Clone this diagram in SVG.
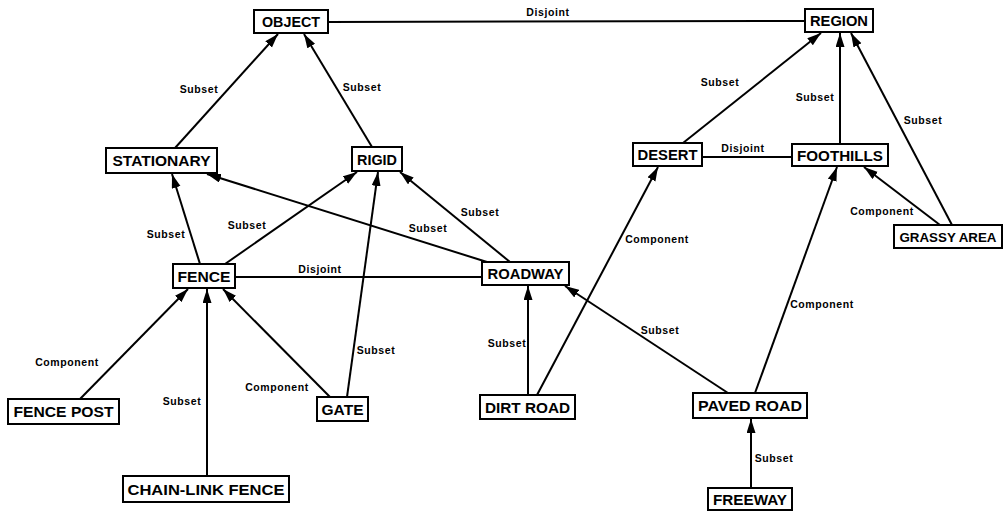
<svg xmlns="http://www.w3.org/2000/svg" width="1008" height="511" viewBox="0 0 1008 511">
  <style>
    .box { fill: #fff; stroke: #000; stroke-width: 2; }
    .nlabel { font-family: "Liberation Sans", Arial, sans-serif; font-weight: bold; font-size: 15px; fill: #000; text-anchor: middle; }
    .edge { stroke: #000; stroke-width: 2; fill: none; }
    .arrow { marker-end: url(#head); }
    .elabel { font-family: "Liberation Sans", Arial, sans-serif; font-weight: bold; font-size: 10.5px; letter-spacing: 0.6px; fill: #000; text-anchor: middle; }
  </style>
  <defs>
    <marker id="head" markerUnits="userSpaceOnUse" markerWidth="15" markerHeight="10" refX="14" refY="4.5" orient="auto">
      <path d="M0,0 L14,4.5 L0,9 z" fill="#000"/>
    </marker>
  </defs>
  <rect width="1008" height="511" fill="#fff"/>

  <g id="connectors">
    <!-- subset / component arrows -->
    <line class="edge arrow" x1="175" y1="148" x2="278" y2="34"/>
    <line class="edge arrow" x1="372" y1="147" x2="304" y2="34"/>
    <line class="edge arrow" x1="683" y1="143" x2="821" y2="33"/>
    <line class="edge arrow" x1="840" y1="144" x2="840" y2="33"/>
    <line class="edge arrow" x1="952" y1="225" x2="851" y2="33"/>
    <line class="edge arrow" x1="940" y1="225" x2="864" y2="167"/>
    <line class="edge arrow" x1="200" y1="264" x2="172" y2="174"/>
    <line class="edge arrow" x1="225" y1="264" x2="357" y2="172"/>
    <line class="edge arrow" x1="487" y1="262" x2="207" y2="174"/>
    <line class="edge arrow" x1="510" y1="262" x2="400" y2="172"/>
    <line class="edge arrow" x1="347" y1="397" x2="378" y2="172"/>
    <line class="edge arrow" x1="80" y1="399" x2="188" y2="289"/>
    <line class="edge arrow" x1="207" y1="476" x2="207" y2="289"/>
    <line class="edge arrow" x1="330" y1="397" x2="223" y2="289"/>
    <line class="edge arrow" x1="528" y1="395" x2="528" y2="286"/>
    <line class="edge arrow" x1="537" y1="395" x2="658" y2="167"/>
    <line class="edge arrow" x1="728" y1="393" x2="565" y2="286"/>
    <line class="edge arrow" x1="755" y1="393" x2="837" y2="167"/>
    <line class="edge arrow" x1="751" y1="488" x2="751" y2="419"/>
    <!-- disjoint links -->
    <line class="edge" x1="328" y1="22" x2="805" y2="21"/>
    <line class="edge" x1="702" y1="157" x2="792" y2="157"/>
    <line class="edge" x1="235" y1="277" x2="482" y2="277"/>

    <!-- link labels -->
    <text class="elabel" x="199" y="93">Subset</text>
    <text class="elabel" x="362" y="91">Subset</text>
    <text class="elabel" x="548" y="16">Disjoint</text>
    <text class="elabel" x="720" y="86">Subset</text>
    <text class="elabel" x="815" y="101">Subset</text>
    <text class="elabel" x="923" y="124">Subset</text>
    <text class="elabel" x="743" y="152">Disjoint</text>
    <text class="elabel" x="882" y="215">Component</text>
    <text class="elabel" x="166" y="238">Subset</text>
    <text class="elabel" x="247" y="229">Subset</text>
    <text class="elabel" x="428" y="232">Subset</text>
    <text class="elabel" x="480" y="216">Subset</text>
    <text class="elabel" x="320" y="273">Disjoint</text>
    <text class="elabel" x="376" y="354">Subset</text>
    <text class="elabel" x="507" y="347">Subset</text>
    <text class="elabel" x="657" y="243">Component</text>
    <text class="elabel" x="660" y="334">Subset</text>
    <text class="elabel" x="822" y="308">Component</text>
    <text class="elabel" x="774" y="462">Subset</text>
    <text class="elabel" x="67" y="366">Component</text>
    <text class="elabel" x="182" y="405">Subset</text>
    <text class="elabel" x="277" y="391">Component</text>
  </g>

  <g id="object"><rect class="box" x="254" y="10" width="74" height="23"/><text class="nlabel" x="291" y="27" textLength="58" lengthAdjust="spacingAndGlyphs">OBJECT</text></g>
  <g id="region"><rect class="box" x="805" y="9" width="68" height="23"/><text class="nlabel" x="839" y="26" textLength="58" lengthAdjust="spacingAndGlyphs">REGION</text></g>
  <g id="stationary"><rect class="box" x="106" y="148" width="111" height="25"/><text class="nlabel" x="161.5" y="166" textLength="98" lengthAdjust="spacingAndGlyphs">STATIONARY</text></g>
  <g id="rigid"><rect class="box" x="352" y="147" width="50" height="24"/><text class="nlabel" x="377" y="164.5" textLength="40" lengthAdjust="spacingAndGlyphs">RIGID</text></g>
  <g id="fence"><rect class="box" x="173" y="264" width="62" height="24"/><text class="nlabel" x="204" y="281.5" textLength="53" lengthAdjust="spacingAndGlyphs">FENCE</text></g>
  <g id="roadway"><rect class="box" x="482" y="262" width="87" height="23"/><text class="nlabel" x="525.5" y="279" textLength="76" lengthAdjust="spacingAndGlyphs">ROADWAY</text></g>
  <g id="desert"><rect class="box" x="633" y="143" width="69" height="23"/><text class="nlabel" x="667.5" y="160" textLength="60" lengthAdjust="spacingAndGlyphs">DESERT</text></g>
  <g id="foothills"><rect class="box" x="792" y="144" width="96" height="22"/><text class="nlabel" x="840" y="160.5" textLength="86" lengthAdjust="spacingAndGlyphs">FOOTHILLS</text></g>
  <g id="grassy-area"><rect class="box" x="894" y="225" width="108" height="23"/><text class="nlabel" x="948" y="241.5" style="font-size:13.5px" textLength="97" lengthAdjust="spacingAndGlyphs">GRASSY AREA</text></g>
  <g id="fence-post"><rect class="box" x="8" y="399" width="111" height="25"/><text class="nlabel" x="63.5" y="417" textLength="100" lengthAdjust="spacingAndGlyphs">FENCE POST</text></g>
  <g id="chain-link-fence"><rect class="box" x="123" y="476" width="166" height="26"/><text class="nlabel" x="206" y="494.5" textLength="157" lengthAdjust="spacingAndGlyphs">CHAIN-LINK FENCE</text></g>
  <g id="gate"><rect class="box" x="317" y="397" width="51" height="24"/><text class="nlabel" x="342.5" y="414.5" textLength="42" lengthAdjust="spacingAndGlyphs">GATE</text></g>
  <g id="dirt-road"><rect class="box" x="480" y="395" width="95" height="24"/><text class="nlabel" x="527.5" y="412.5" textLength="85" lengthAdjust="spacingAndGlyphs">DIRT ROAD</text></g>
  <g id="paved-road"><rect class="box" x="693" y="393" width="114" height="25"/><text class="nlabel" x="750" y="411" textLength="104" lengthAdjust="spacingAndGlyphs">PAVED ROAD</text></g>
  <g id="freeway"><rect class="box" x="708" y="488" width="84" height="22"/><text class="nlabel" x="750" y="504.5" textLength="74" lengthAdjust="spacingAndGlyphs">FREEWAY</text></g>
</svg>
